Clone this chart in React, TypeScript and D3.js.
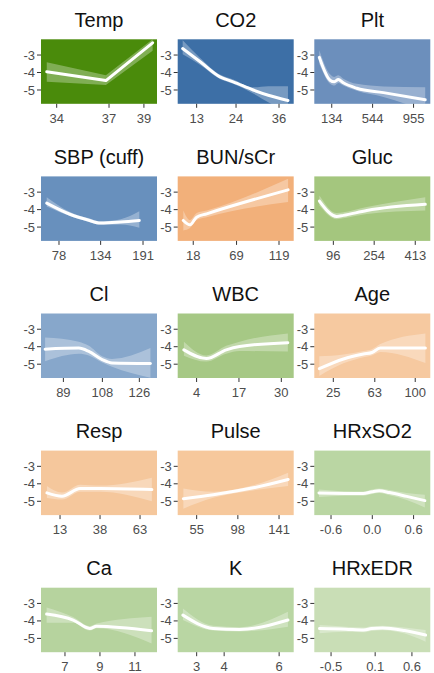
import React from "react";
import * as d3 from "d3";

// panel titles and background fills, row by row
const titles = ["Temp", "CO2", "Plt", "SBP (cuff)", "BUN/sCr", "Gluc", "Cl", "WBC", "Age", "Resp", "Pulse", "HRxSO2", "Ca", "K", "HRxEDR"];
const fills = ["#4a8b0b", "#3d6fa6", "#6c8fbc", "#6890bd", "#f2b07a", "#a4c67e", "#87a7cb", "#a6c885", "#f6c9a0", "#f5c79c", "#f6c89c", "#bad6a3", "#b6d39e", "#b9d6a3", "#c9deb6"];

// x axes
const xDomains = [[33.1, 39.75], [7.71, 40.1], [-41, 1123], [53.8, 209.8], [-0.3, 136.3], [22.3, 471.2], [78.1, 134.6], [-1.8, 33.8], [7.6, 113.8], [1.1, 73.6], [35.2, 156.3], [-0.843, 0.843], [5.63, 12.26], [2.31, 6.53], [-0.728, 0.85]];
const xTicks = [[34, 37, 39], [13, 24, 36], [134, 544, 955], [78, 134, 191], [18, 69, 119], [96, 254, 413], [89, 108, 126], [4, 17, 30], [25, 63, 100], [13, 38, 63], [55, 98, 141], [-0.6, 0, 0.6], [7, 9, 11], [3, 4, 6], [-0.5, 0.1, 0.6]];
const xTickLabels = [["34", "37", "39"], ["13", "24", "36"], ["134", "544", "955"], ["78", "134", "191"], ["18", "69", "119"], ["96", "254", "413"], ["89", "108", "126"], ["4", "17", "30"], ["25", "63", "100"], ["13", "38", "63"], ["55", "98", "141"], ["-0.6", "0.0", "0.6"], ["7", "9", "11"], ["3", "4", "6"], ["-0.5", "0.1", "0.6"]];

// y axis (shared)
const yDomain = [-5.79, -2.1];
const yTicks = [-3, -4, -5];

// fitted curve and confidence band per panel
const curveX = [
  [33.43, 36.82, 39.5],
  [9.1, 13.9, 19.5, 23.2, 28.8, 33, 38.5],
  [9, 117, 160, 200, 250, 385, 653, 1072],
  [61.5, 93.5, 116, 134, 161, 186],
  [6.3, 14.2, 22, 33.8, 129.7],
  [42.1, 109.4, 135, 225.6, 451.8],
  [80.1, 96.5, 101.4, 107.9, 112.7, 131.4],
  [0.1, 7.0, 13.1, 17.2, 32],
  [12.2, 34.3, 52.6, 60.3, 68, 109.3],
  [4.8, 14.2, 25.6, 38.1, 70.4],
  [41.1, 72.4, 114, 150.5],
  [-0.775, -0.4, -0.133, 0.0, 0.1, 0.25, 0.5, 0.764],
  [5.95, 7.47, 8.42, 8.81, 11.95],
  [2.5, 3.6, 4.56, 6.32],
  [-0.657, -0.3, -0.056, 0.05, 0.2, 0.5, 0.786],
];
const curveY = [
  [-3.96, -4.46, -2.3],
  [-2.63, -3.37, -4.25, -4.53, -5.0, -5.3, -5.6],
  [-3.13, -4.44, -4.53, -4.4, -4.59, -4.9, -5.15, -5.56],
  [-3.63, -4.28, -4.58, -4.77, -4.71, -4.62],
  [-4.62, -4.87, -4.43, -4.24, -2.87],
  [-3.51, -4.39, -4.33, -4.05, -3.7],
  [-4.14, -4.08, -4.27, -4.74, -4.93, -4.96],
  [-4.18, -4.68, -4.18, -3.99, -3.77],
  [-5.26, -4.7, -4.42, -4.33, -4.08, -4.08],
  [-4.52, -4.71, -4.27, -4.27, -4.33],
  [-4.85, -4.62, -4.23, -3.75],
  [-4.52, -4.55, -4.56, -4.45, -4.4, -4.5, -4.72, -4.96],
  [-3.61, -3.95, -4.43, -4.3, -4.56],
  [-3.67, -4.43, -4.49, -3.95],
  [-4.43, -4.47, -4.52, -4.44, -4.4, -4.55, -4.81],
];
const bandLo = [
  [-4.53, -4.72, -2.76],
  [-2.95, -3.55, -4.37, -4.65, -5.2, -5.7, -6.2],
  [-3.5, -4.65, -4.75, -4.6, -4.75, -5.05, -5.4, -6.2],
  [-3.82, -4.38, -4.68, -4.87, -4.85, -5.04],
  [-5.19, -5.05, -4.6, -4.43, -3.57],
  [-3.76, -4.55, -4.5, -4.25, -4.05],
  [-4.83, -4.4, -4.5, -4.9, -5.15, -5.77],
  [-4.51, -4.85, -4.4, -4.25, -4.27],
  [-5.67, -4.95, -4.6, -4.5, -4.3, -4.93],
  [-4.81, -4.9, -4.45, -4.45, -5.0],
  [-5.42, -4.8, -4.38, -4.13],
  [-4.75, -4.68, -4.68, -4.58, -4.53, -4.65, -4.92, -5.35],
  [-4.1, -4.1, -4.55, -4.42, -5.29],
  [-3.95, -4.55, -4.6, -4.33],
  [-4.71, -4.62, -4.65, -4.57, -4.53, -4.72, -5.19],
];
const bandHi = [
  [-3.41, -4.16, -2.1],
  [-2.16, -3.15, -4.12, -4.4, -4.85, -4.78, -4.78],
  [-2.72, -4.1, -4.25, -4.16, -4.35, -4.65, -4.8, -4.85],
  [-3.29, -4.15, -4.47, -4.67, -4.55, -4.1],
  [-4.05, -4.6, -4.2, -4.05, -2.24],
  [-3.19, -4.2, -4.15, -3.85, -3.29],
  [-3.47, -3.71, -3.95, -4.55, -4.7, -4.08],
  [-3.71, -4.5, -3.95, -3.71, -3.24],
  [-4.55, -4.45, -4.25, -4.15, -3.85, -3.24],
  [-4.13, -4.5, -4.05, -4.1, -3.65],
  [-4.27, -4.45, -4.08, -3.37],
  [-4.33, -4.43, -4.44, -4.32, -4.27, -4.36, -4.52, -4.62],
  [-3.23, -3.78, -4.3, -4.15, -3.76],
  [-3.29, -4.28, -4.36, -3.48],
  [-4.24, -4.33, -4.38, -4.3, -4.27, -4.38, -4.52],
];

const W = 434;
const H = 673;
const colLeft = [41, 177.7, 314.3];
const panelW = 116;
const panelH = 64.5;
const rowTop0 = 39.3;
const rowStep = 137.1;
const font = "'Liberation Sans', Arial, Helvetica, sans-serif";

const Panel = ({ i }: { i: number }) => {
  const col = i % 3;
  const row = Math.floor(i / 3);
  const left = colLeft[col];
  const top = rowTop0 + row * rowStep;

  const x = d3.scaleLinear().domain(xDomains[i]).range([0, panelW]);
  const y = d3.scaleLinear().domain(yDomain).range([panelH, 0]);
  const pts = curveX[i].map((v, k) => ({ x: v, y: curveY[i][k], lo: bandLo[i][k], hi: bandHi[i][k] }));
  const curve = i === 0 ? d3.curveLinear : d3.curveMonotoneX;

  const line = d3.line<any>().x(d => x(d.x)).y(d => y(d.y)).curve(curve);
  const area = d3.area<any>().x(d => x(d.x)).y0(d => y(d.lo)).y1(d => y(d.hi)).curve(curve);
  const clipId = `clip-${i}`;

  return (
    <g transform={`translate(${left},${top})`}>
      <text x={panelW / 2} y={-12.6} textAnchor="middle" fontSize={20} fill="#111" fontFamily={font}>
        {titles[i]}
      </text>
      <defs>
        <clipPath id={clipId}>
          <rect width={panelW} height={panelH} />
        </clipPath>
      </defs>
      <rect width={panelW} height={panelH} fill={fills[i]} />
      <g clipPath={`url(#${clipId})`}>
        <path d={area(pts) || ""} fill="#fff" fillOpacity={0.3} />
        <path d={line(pts) || ""} fill="none" stroke="#fff" strokeWidth={3} strokeLinejoin="round" strokeLinecap="round" />
      </g>
      {yTicks.map(t => (
        <g key={t} transform={`translate(0,${y(t)})`}>
          <line x1={-4} x2={0} stroke="#333" strokeWidth={1} />
          <text x={-6} dy="0.35em" textAnchor="end" fontSize={13} fill="#4d4d4d" fontFamily={font}>
            {t}
          </text>
        </g>
      ))}
      {xTicks[i].map((t, k) => (
        <g key={k} transform={`translate(${x(t)},${panelH})`}>
          <line y1={0} y2={4} stroke="#333" strokeWidth={1} />
          <text y={19} textAnchor="middle" fontSize={13} fill="#4d4d4d" fontFamily={font}>
            {xTickLabels[i][k]}
          </text>
        </g>
      ))}
    </g>
  );
};

export default function App() {
  return (
    <svg width={W} height={H} style={{ position: "absolute", left: 0, top: 0, background: "#fff" }}>
      {titles.map((_, i) => (
        <Panel key={i} i={i} />
      ))}
    </svg>
  );
}
